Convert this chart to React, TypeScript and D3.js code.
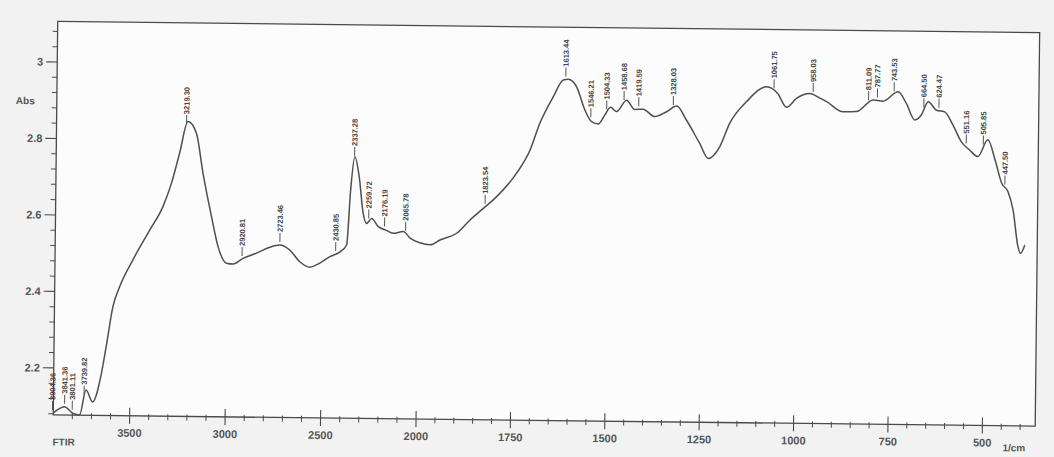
import * as d3 from "d3";

// FTIR spectrum
const wavenumbers = [
  3900, 3842, 3798, 3762, 3730, 3695, 3650, 3627, 3594, 3560, 3492, 3406, 3338, 3295, 3254,
  3212, 3167, 3130, 3083, 3047, 3002, 2967, 2916, 2845, 2776, 2724, 2671, 2618, 2565, 2513,
  2461, 2408, 2374, 2356, 2336, 2312, 2289, 2271, 2244, 2209, 2169, 2130, 2078, 2042, 1995,
  1968, 1942, 1898, 1863, 1828, 1793, 1741, 1706, 1681, 1646, 1620, 1607, 1585, 1562, 1544,
  1526, 1509, 1494, 1478, 1452, 1430, 1408, 1377, 1346, 1319, 1293, 1257, 1234, 1204, 1178,
  1134, 1082, 1052, 1028, 1002, 967, 940, 922, 878, 843, 799, 773, 733, 711, 688,
  671, 653, 631, 609, 587, 564, 542, 520, 494, 474, 456, 439, 425, 411, 404, 393,
];
const absorbance = [
  2.082, 2.099, 2.082, 2.078, 2.143, 2.112, 2.188, 2.257, 2.362, 2.414, 2.485, 2.563, 2.625, 2.686, 2.765,
  2.848, 2.818, 2.713, 2.6, 2.522, 2.479, 2.477, 2.492, 2.506, 2.522, 2.528, 2.515, 2.485, 2.471, 2.482,
  2.499, 2.512, 2.53, 2.674, 2.761, 2.709, 2.613, 2.587, 2.6, 2.579, 2.57, 2.562, 2.567, 2.55, 2.538,
  2.533, 2.546, 2.564, 2.599, 2.63, 2.661, 2.723, 2.784, 2.854, 2.924, 2.968, 2.97, 2.951, 2.89, 2.86,
  2.854, 2.878, 2.898, 2.887, 2.917, 2.893, 2.894, 2.875, 2.888, 2.903, 2.867, 2.806, 2.767, 2.798, 2.86,
  2.917, 2.956, 2.939, 2.903, 2.927, 2.94, 2.928, 2.919, 2.893, 2.894, 2.925, 2.922, 2.947, 2.917, 2.874,
  2.887, 2.922, 2.9, 2.896, 2.862, 2.818, 2.797, 2.78, 2.824, 2.771, 2.711, 2.689, 2.641, 2.545, 2.528, 2.55,
];
const peakLabels = [
  "3904.36", "3841.36", "3801.11", "3739.82", "3219.30", "2920.81", "2723.46", "2430.85",
  "2337.28", "2259.72", "2176.19", "2065.78", "1823.54", "1613.44", "1546.21", "1504.33",
  "1458.68", "1419.59", "1328.03", "1061.75", "958.03", "811.09", "787.77", "743.53",
  "664.50", "624.47", "551.16", "505.85", "447.50",
];
const xTicks = [3500, 3000, 2500, 2000, 1750, 1500, 1250, 1000, 750, 500];
const yTicks = [2.2, 2.4, 2.6, 2.8, 3];

const width = 1054;
const height = 457;
const left = 55.5;
const right = 1037.5;
const top = 27;
const bottom = 420.5;
const ink = "#4a4a4a";

// the wavenumber axis changes scale at 2000 1/cm
const x = d3.scaleLinear().domain([3900, 2000, 360]).range([left, 418.3, right]);
const y = d3.scaleLinear().domain([2.077, 3.106]).range([bottom, top]);

const minorX = [...d3.range(3800, 2000, -100), ...d3.range(1950, 399, -50)].filter(
  (v) => !xTicks.includes(v)
);
const minorY = d3.range(2.08, 3.1, 0.04).filter((v) => !yTicks.some((t) => Math.abs(t - v) < 1e-6));

const absAt = (wn: number) => {
  for (let i = 0; i < wavenumbers.length - 1; i++) {
    const a = wavenumbers[i];
    const b = wavenumbers[i + 1];
    if (wn <= a && wn >= b) {
      const t = (a - wn) / (a - b);
      return absorbance[i] + t * (absorbance[i + 1] - absorbance[i]);
    }
  }
  return absorbance[0];
};

export default function App() {
  const points: [number, number][] = wavenumbers.map((w, i) => [x(w), y(absorbance[i])]);
  const path = d3.line().curve(d3.curveMonotoneX)(points) || "";

  return (
    <svg
      width={width}
      height={height}
      style={{ position: "absolute", left: 0, top: 0, background: "#f2f2f2" }}
      fontFamily="'Liberation Sans', Arial, sans-serif"
    >
      {/* the scan is slightly tilted */}
      <g transform="rotate(0.65, 545, 220)">
        <rect x={left} y={top} width={right - left} height={bottom - top} fill="#fcfcfc" />
        <rect
          x={left}
          y={top}
          width={right - left}
          height={bottom - top}
          fill="none"
          stroke={ink}
          strokeWidth={1.3}
        />

        {/* y axis */}
        {yTicks.map((t) => (
          <g key={t}>
            <line x1={left - 11} x2={left} y1={y(t)} y2={y(t)} stroke={ink} strokeWidth={1.1} />
            <text
              x={left - 14}
              y={y(t)}
              dy="0.35em"
              textAnchor="end"
              fontSize={11}
              fontWeight="bold"
              fill="#555"
            >
              {t === 3 ? "3" : t.toFixed(1)}
            </text>
          </g>
        ))}
        {minorY.map((t) => (
          <line key={t} x1={left - 5} x2={left} y1={y(t)} y2={y(t)} stroke={ink} strokeWidth={1} />
        ))}
        <text x={24} y={110} textAnchor="middle" fontSize={10} fontWeight="bold" fill="#555">
          Abs
        </text>

        {/* x axis */}
        {xTicks.map((t) => (
          <g key={t}>
            <line x1={x(t)} x2={x(t)} y1={bottom - 8} y2={bottom + 8} stroke={ink} strokeWidth={1.1} />
            <text
              x={x(t)}
              y={bottom + 21}
              textAnchor="middle"
              fontSize={11}
              fontWeight="bold"
              fill="#555"
            >
              {t}
            </text>
          </g>
        ))}
        {minorX.map((t) => (
          <line key={t} x1={x(t)} x2={x(t)} y1={bottom - 2} y2={bottom + 4} stroke={ink} strokeWidth={1} />
        ))}
        <text x={55} y={451} fontSize={10} fontWeight="bold" fill="#555">
          FTIR
        </text>
        <text x={1005} y={446} fontSize={10} fontWeight="bold" fill="#555">
          1/cm
        </text>

        {/* spectrum */}
        <path d={path} fill="none" stroke="#4f4f4f" strokeWidth={1.5} />

        {/* peak labels */}
        {peakLabels.map((label) => {
          const wn = parseFloat(label);
          const px = x(wn);
          const cy = y(absAt(wn));
          return (
            <g key={label}>
              <line x1={px} x2={px} y1={cy - 3} y2={cy - 12} stroke="#555" strokeWidth={1} />
              <text
                transform={`translate(${px},${cy - 13}) rotate(-90)`}
                dy="0.35em"
                fontSize={7.5}
                fontWeight="bold"
                fill="#444"
              >
                {label}
              </text>
            </g>
          );
        })}
      </g>
    </svg>
  );
}
